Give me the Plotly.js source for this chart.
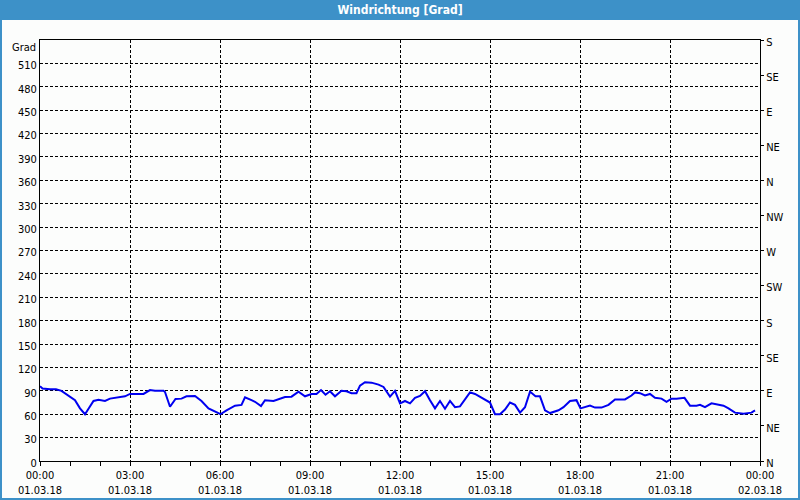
<!DOCTYPE html>
<html>
<head>
<meta charset="utf-8">
<script src="https://cdn.plot.ly/plotly-3.0.1.min.js"></script>
<style>
html,body{margin:0;padding:0;background:#fcfdfc;}
#chart{width:800px;height:500px;}
</style>
</head>
<body>
<div id="chart"></div>
<script>
// Data (time of day on 01.03.18, wind direction in degrees)
var times = ["00:00","00:05","00:20","00:32","00:43","01:00","01:10","01:20","01:30","01:37",
"01:47","01:57","02:10","02:20","02:40","02:50","03:00","03:10","03:27","03:40",
"03:50","04:07","04:10","04:20","04:31","04:43","04:53","05:10","05:23","05:37",
"05:50","06:01","06:13","06:30","06:43","06:50","07:03","07:10","07:22","07:30",
"07:47","08:00","08:10","08:23","08:37","08:50","09:03","09:13","09:22","09:31",
"09:40","09:50","10:03","10:13","10:23","10:33","10:40","10:50","11:03","11:17",
"11:27","11:40","11:50","12:00","12:10","12:20","12:30","12:40","12:50","13:00",
"13:10","13:20","13:30","13:40","13:50","14:00","14:10","14:20","14:30","14:40",
"14:50","15:00","15:10","15:20","15:30","15:40","15:50","16:00","16:10","16:20",
"16:31","16:40","16:50","17:00","17:17","17:27","17:40","17:53","18:01","18:20",
"18:30","18:43","18:57","19:10","19:30","19:43","19:50","20:00","20:10","20:20",
"20:30","20:43","20:53","21:03","21:13","21:29","21:40","21:53","22:00","22:10",
"22:23","22:33","22:47","22:57","23:10","23:27","23:37","23:43","23:50"];
var direction = [96,93,92,92,90,82,78,67.5,60,67,
77,78.6,77,80,81.7,83,86,86,86,91,
90,90,88.5,69.6,79.5,80,83,83.5,77,67.5,
63,60,65,71,72,81.7,78,76,70.5,78,
77,80,82,82.5,89,83,86,86,91,85,
89.5,83,90,89.5,87,87,96.6,101,100.5,98,
95,82.5,90,74,77,74,81,83.5,89.5,78,
67.5,77,67,77,69,70,79,88,86,82,
78.5,75,60,60,66,75,72,62,69,89,
83,83,65,61.5,65,69,77,78,67.5,71,
68.5,68.5,72,79,79,84,88,87,84,86,
81,80,76,80,80,81,71,71,72,69,
74,72.5,71,67.5,62,60.5,62,62,65];
var day = "2018-03-01 ";
var xTimes = times.map(function(t){return day + t;});

var gradTicks = [0,30,60,90,120,150,180,210,240,270,300,330,360,390,420,450,480,510];
var compassVals = [0,45,90,135,180,225,270,315,360,405,450,495,540];
var compassText = ["N","NE","E","SE","S","SW","W","NW","N","NE","E","SE","S"];
var xTickVals = ["2018-03-01 00:00","2018-03-01 03:00","2018-03-01 06:00","2018-03-01 09:00",
"2018-03-01 12:00","2018-03-01 15:00","2018-03-01 18:00","2018-03-01 21:00","2018-03-02 00:00"];
var xTickText = ["00:00<br>01.03.18","03:00<br>01.03.18","06:00<br>01.03.18","09:00<br>01.03.18",
"12:00<br>01.03.18","15:00<br>01.03.18","18:00<br>01.03.18","21:00<br>01.03.18","00:00<br>02.03.18"];

var FONT = "Tahoma, 'DejaVu Sans Condensed', 'Liberation Sans', sans-serif";
var W = 800, H = 500, ml = 40, mr = 40, mt = 40, mb = 39;
var pw = W - ml - mr, ph = H - mt - mb;
var blue = "#3d91c8";

var traces = [
  {x: xTimes, y: direction, type: "scatter", mode: "lines",
   line: {color: "#0000f0", width: 2}, xaxis: "x", yaxis: "y", hoverinfo: "x+y", showlegend: false},
  {x: xTimes, y: direction, type: "scatter", mode: "lines",
   line: {color: "rgba(0,0,0,0)", width: 0}, xaxis: "x", yaxis: "y2", hoverinfo: "skip", showlegend: false}
];

var layout = {
  width: W, height: H,
  margin: {l: ml, r: mr, t: mt, b: mb, pad: 0},
  paper_bgcolor: "#fcfdfc",
  plot_bgcolor: "#fcfdfc",
  font: {family: FONT, size: 11, color: "#000"},
  showlegend: false,
  title: {text: "<b>Windrichtung [Grad]</b>", font: {family: FONT, size: 12, color: "#ffffff"},
          x: 0.5, xref: "container", xanchor: "center", y: 1 - 10/H, yref: "container", yanchor: "middle"},
  xaxis: {
    type: "date",
    range: ["2018-03-01 00:00", "2018-03-02 00:00"],
    tickmode: "array", tickvals: xTickVals, ticktext: xTickText,
    ticks: "outside", ticklen: 4, tickcolor: "#000", tickwidth: 1,
    minor: {dtick: 3600000, ticks: "outside", ticklen: 4, tickcolor: "#000", showgrid: false},
    showgrid: true, gridcolor: "#000", gridwidth: 1, griddash: "3px,2px",
    showline: true, linecolor: "#000", linewidth: 1, mirror: true,
    zeroline: false, fixedrange: true,
    tickfont: {family: FONT, size: 11, color: "#000"}
  },
  yaxis: {
    range: [0, 540],
    tickmode: "array", tickvals: gradTicks,
    ticks: "", showgrid: true, gridcolor: "#000", gridwidth: 1, griddash: "3px,2px",
    showline: true, linecolor: "#000", linewidth: 1, mirror: true,
    zeroline: false, fixedrange: true, ticklabelshift: 2,
    tickfont: {family: FONT, size: 11, color: "#000"}
  },
  yaxis2: {
    range: [0, 540], overlaying: "y", side: "right", anchor: "x",
    tickmode: "array", tickvals: compassVals, ticktext: compassText,
    ticks: "outside", ticklen: 3, tickcolor: "#000",
    showgrid: false, zeroline: false, showline: false, fixedrange: true, ticklabelshift: 2,
    tickfont: {family: FONT, size: 11, color: "#000"}
  },
  shapes: [
    {type: "rect", xref: "paper", yref: "paper", layer: "below",
     x0: -ml/pw, x1: 1 + mr/pw, y0: 1 + (mt - 20)/ph, y1: 1 + mt/ph,
     fillcolor: blue, line: {width: 0}},
    {type: "rect", xref: "paper", yref: "paper", layer: "below",
     x0: -(ml - 1)/pw, x1: 1 + (mr - 1)/pw, y0: -(mb - 1)/ph, y1: 1 + mt/ph,
     fillcolor: "rgba(0,0,0,0)", line: {color: blue, width: 2}}
  ],
  annotations: [
    {text: "Grad", xref: "paper", yref: "paper", x: 0, y: 1, xanchor: "right", yanchor: "top",
     xshift: -2, yshift: 1, showarrow: false, font: {family: FONT, size: 11, color: "#000"}}
  ]
};

Plotly.newPlot("chart", traces, layout, {displayModeBar: false, staticPlot: true});
</script>
</body>
</html>
